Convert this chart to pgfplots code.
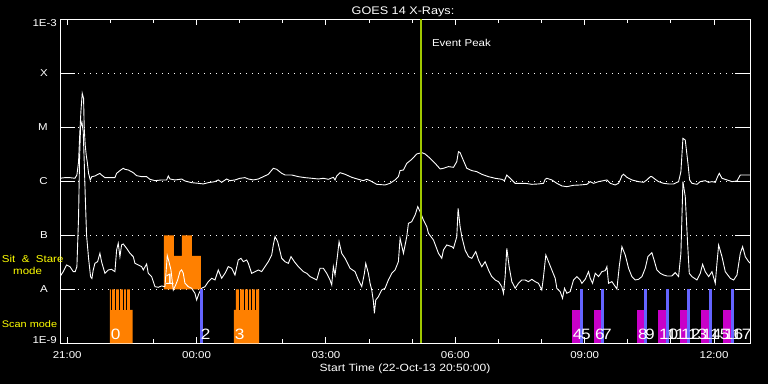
\documentclass[border=0pt]{standalone}
\usepackage{pgfplots}
\pgfplotsset{compat=1.18}
\usepackage{fontspec}
\setmainfont{Liberation Sans}[FakeStretch=1.15]
\definecolor{orng}{RGB}{255,128,0}
\definecolor{mgnt}{RGB}{200,0,200}
\definecolor{blu}{RGB}{100,100,255}
\definecolor{evc}{RGB}{160,200,0}
\definecolor{ylw}{RGB}{255,255,0}
% time in hours after 21:00 (22-Oct-13), flux as log10(W/m^2)
\begin{document}
\begin{tikzpicture}[x=1pt,y=1pt]
\fill[black] (0,0) rectangle (768,384);
\begin{axis}[
  at={(60pt,40.7pt)}, anchor=south west, scale only axis,
  width=690pt, height=324pt,
  xmin=-0.16667, xmax=15.83333, ymin=-9, ymax=-3,
  axis line style={white, line width=1pt},
  xtick={0,3,6,9,12,15},
  xticklabels={21:00,00:00,03:00,06:00,09:00,12:00},
  minor xtick={1,2,4,5,7,8,10,11,13,14},
  major tick length=6pt, minor tick length=4pt,
  tick style={white, line width=1pt},
  ytick={-9,-8,-7,-6,-5,-4,-3},
  yticklabels={\raisebox{3.3pt}{1E-9},A\hspace*{9pt},B\hspace*{9pt},C\hspace*{9pt},M\hspace*{9pt},X\hspace*{9pt},\raisebox{-3.7pt}{1E-3}},
  ytick style={draw=none},
  ymajorgrids,
  major grid style={white, line width=1pt, dash pattern=on 1pt off 5pt},
  xticklabel style={anchor=base, yshift=-15.4pt, text=white, inner sep=0pt, font=\fontsize{10}{10}\selectfont},
  yticklabel style={anchor=base east, inner sep=0pt, xshift=-3pt, yshift=-3.6pt, text=white, font=\fontsize{10}{10}\selectfont},
  /pgf/number format/assume math mode=true,
]
% sit & stare block
\addplot[fill=orng, draw=none] coordinates {(2.244,-8) (2.244,-7) (2.476,-7) (2.476,-7.383) (2.661,-7.383) (2.661,-7) (2.893,-7) (2.893,-7.383) (3.102,-7.383) (3.102,-8)} -- cycle;
% scan blocks 0 and 3
\addplot[fill=orng, draw=none] coordinates {(0.991,-9) (0.991,-8) (1.452,-8) (1.452,-8.383) (1.517,-8.383) (1.517,-9)} -- cycle;
\addplot[fill=orng, draw=none] coordinates {(3.868,-9) (3.868,-8.383) (3.914,-8.383) (3.914,-8) (4.448,-8) (4.448,-9)} -- cycle;
\addplot[black, line width=1pt] coordinates {(1.037,-8.383) (1.037,-8)};
\addplot[black, line width=1pt] coordinates {(1.130,-8.383) (1.130,-8)};
\addplot[black, line width=1pt] coordinates {(1.223,-8.383) (1.223,-8)};
\addplot[black, line width=1pt] coordinates {(1.304,-8.383) (1.304,-8)};
\addplot[black, line width=1pt] coordinates {(1.385,-8.383) (1.385,-8)};
\addplot[black, line width=1pt] coordinates {(4.007,-8.383) (4.007,-8)};
\addplot[black, line width=1pt] coordinates {(4.100,-8.383) (4.100,-8)};
\addplot[black, line width=1pt] coordinates {(4.193,-8.383) (4.193,-8)};
\addplot[black, line width=1pt] coordinates {(4.285,-8.383) (4.285,-8)};
\addplot[black, line width=1pt] coordinates {(4.378,-8.383) (4.378,-8)};
% upper channel (1-8 A)
\addplot[white, line width=0.9pt] table {
-0.166 -5.944
-0.053 -5.932
0.063 -5.932
0.179 -5.944
0.225 -5.883
0.264 -5.636
0.287 -5.204
0.318 -4.710
0.349 -4.371
0.380 -4.464
0.395 -5.019
0.418 -5.328
0.441 -5.513
0.464 -5.636
0.496 -5.852
0.534 -5.976
0.573 -5.914
0.643 -5.901
0.759 -5.852
0.797 -5.883
0.875 -5.932
0.991 -5.932
1.107 -5.932
1.146 -5.852
1.223 -5.802
1.300 -5.759
1.339 -5.778
1.416 -5.790
1.532 -5.840
1.609 -5.895
1.726 -5.914
1.842 -5.914
1.919 -5.963
2.035 -5.988
2.190 -5.975
2.306 -5.975
2.345 -5.901
2.383 -5.957
2.499 -5.975
2.615 -5.963
2.654 -5.957
2.731 -5.994
2.886 -6.025
3.040 -6.037
3.156 -6.049
3.272 -6.025
3.427 -6.006
3.504 -5.975
3.582 -6.019
3.697 -5.957
3.775 -5.988
3.891 -5.975
4.007 -5.944
4.123 -5.932
4.200 -5.957
4.316 -5.975
4.432 -5.957
4.548 -5.914
4.664 -5.870
4.780 -5.759
4.858 -5.778
4.974 -5.852
5.051 -5.883
5.206 -5.883
5.360 -5.914
5.515 -5.932
5.670 -5.944
5.825 -5.957
5.941 -5.944
6.056 -5.963
6.172 -5.926
6.211 -5.975
6.250 -5.901
6.327 -5.840
6.443 -5.870
6.598 -5.926
6.752 -5.963
6.868 -5.988
6.946 -5.963
7.023 -5.988
7.178 -6.056
7.371 -6.068
7.487 -6.037
7.603 -5.975
7.680 -5.914
7.719 -5.802
7.797 -5.790
7.874 -5.667
7.990 -5.593
8.106 -5.494
8.222 -5.469
8.300 -5.494
8.416 -5.574
8.532 -5.667
8.648 -5.772
8.725 -5.759
8.841 -5.728
8.957 -5.741
9.034 -5.636
9.073 -5.451
9.111 -5.469
9.189 -5.617
9.266 -5.759
9.382 -5.802
9.498 -5.821
9.614 -5.870
9.769 -5.914
9.923 -5.944
10.078 -5.963
10.140 -5.988
10.194 -5.883
10.272 -5.944
10.349 -6.006
10.388 -6.037
10.620 -6.037
10.774 -6.056
10.929 -6.049
11.045 -6.037
11.084 -5.963
11.122 -5.944
11.238 -5.975
11.354 -6.037
11.471 -6.086
11.587 -6.099
11.741 -6.074
11.896 -6.068
12.051 -6.056
12.128 -6.006
12.205 -6.037
12.321 -6.006
12.437 -5.988
12.515 -5.975
12.592 -6.037
12.708 -6.068
12.785 -6.037
12.824 -5.975
12.863 -5.895
12.901 -5.870
12.979 -5.926
13.095 -5.975
13.249 -6.006
13.365 -6.019
13.442 -5.975
13.520 -5.914
13.558 -5.914
13.636 -5.963
13.713 -6.006
13.829 -6.037
13.945 -6.049
14.061 -6.049
14.177 -6.006
14.231 -5.821
14.278 -5.204
14.332 -5.235
14.394 -5.667
14.433 -5.975
14.487 -6.037
14.603 -6.056
14.680 -6.006
14.796 -5.988
14.874 -6.019
14.951 -6.006
15.028 -6.019
15.082 -5.914
15.121 -5.852
15.183 -5.944
15.299 -5.975
15.415 -6.006
15.531 -5.994
15.608 -5.883
15.724 -5.883
15.840 -5.883
};
% lower channel (0.5-4 A)
\addplot[white, line width=0.9pt] table {
-0.166 -7.765
-0.092 -7.673
-0.015 -7.549
0.063 -7.580
0.140 -7.673
0.186 -7.673
0.225 -7.581
0.264 -6.655
0.287 -5.575
0.310 -4.990
0.341 -4.900
0.372 -5.081
0.395 -5.636
0.418 -6.254
0.449 -6.994
0.496 -7.427
0.542 -7.766
0.573 -7.800
0.604 -7.642
0.643 -7.519
0.705 -7.488
0.759 -7.333
0.797 -7.488
0.875 -7.704
0.952 -7.642
1.029 -7.630
1.107 -7.673
1.146 -7.272
1.184 -7.148
1.223 -7.395
1.261 -7.179
1.300 -7.160
1.378 -7.241
1.455 -7.333
1.532 -7.395
1.571 -7.519
1.648 -7.549
1.726 -7.580
1.764 -7.642
1.842 -7.531
1.880 -7.704
1.958 -7.765
2.035 -7.951
2.112 -7.963
2.190 -7.938
2.267 -7.951
2.321 -7.377
2.360 -7.488
2.406 -7.642
2.460 -8.012
2.515 -7.920
2.561 -7.827
2.615 -7.673
2.654 -7.642
2.692 -7.704
2.731 -7.889
2.808 -7.951
2.886 -7.981
2.963 -8.074
3.002 -8.198
3.056 -8.074
3.118 -7.981
3.195 -7.951
3.272 -7.858
3.350 -7.796
3.427 -7.827
3.504 -7.642
3.582 -7.796
3.659 -7.704
3.736 -7.580
3.814 -7.611
3.891 -7.735
3.968 -7.457
4.030 -7.426
4.084 -7.488
4.162 -7.457
4.200 -7.519
4.277 -7.704
4.355 -7.673
4.432 -7.642
4.510 -7.673
4.587 -7.580
4.664 -7.488
4.742 -7.364
4.780 -7.179
4.819 -7.025
4.881 -7.117
4.974 -7.426
5.051 -7.488
5.128 -7.519
5.190 -7.395
5.267 -7.488
5.360 -7.580
5.476 -7.673
5.554 -7.704
5.631 -7.765
5.708 -7.796
5.786 -7.827
5.863 -7.611
5.941 -7.611
6.018 -7.704
6.095 -7.827
6.134 -7.920
6.172 -7.580
6.211 -7.735
6.265 -7.395
6.304 -7.117
6.366 -7.333
6.443 -7.426
6.559 -7.611
6.675 -7.673
6.752 -7.827
6.830 -7.951
6.892 -7.704
6.923 -7.519
6.984 -7.704
7.023 -7.889
7.062 -8.012
7.101 -8.228
7.124 -8.444
7.155 -8.198
7.217 -8.136
7.294 -8.012
7.371 -7.981
7.448 -7.827
7.526 -7.704
7.603 -7.642
7.680 -7.488
7.719 -7.056
7.797 -7.333
7.874 -7.025
7.913 -6.778
7.990 -6.747
8.068 -6.623
8.129 -6.469
8.183 -6.562
8.260 -6.716
8.338 -6.840
8.377 -6.963
8.493 -7.086
8.609 -7.333
8.686 -7.426
8.725 -7.272
8.802 -7.179
8.918 -7.210
8.957 -7.241
9.034 -7.025
9.065 -6.500
9.111 -6.840
9.150 -7.025
9.227 -7.272
9.305 -7.395
9.382 -7.426
9.475 -7.302
9.537 -7.457
9.614 -7.580
9.691 -7.488
9.769 -7.642
9.846 -7.765
9.923 -7.827
10.001 -7.858
10.078 -7.951
10.117 -8.074
10.155 -7.765
10.194 -7.241
10.248 -7.580
10.310 -7.858
10.388 -7.981
10.465 -7.889
10.543 -7.827
10.620 -7.827
10.697 -7.858
10.774 -7.815
10.852 -7.858
10.929 -7.889
11.006 -8.012
11.045 -7.765
11.099 -7.364
11.161 -7.488
11.238 -7.642
11.316 -7.796
11.354 -7.981
11.432 -8.043
11.486 -8.167
11.532 -7.981
11.587 -8.074
11.664 -8.043
11.741 -7.827
11.819 -7.765
11.896 -7.827
11.935 -7.889
12.012 -7.815
12.089 -7.673
12.128 -7.796
12.182 -7.889
12.244 -7.704
12.321 -7.765
12.399 -7.673
12.476 -7.654
12.515 -7.580
12.553 -7.889
12.631 -7.858
12.747 -7.994
12.801 -7.580
12.863 -7.210
12.940 -7.364
13.017 -7.611
13.095 -7.765
13.172 -7.827
13.249 -7.815
13.327 -7.765
13.404 -7.611
13.466 -7.395
13.558 -7.321
13.620 -7.488
13.674 -7.642
13.752 -7.704
13.829 -7.735
13.906 -7.753
14.022 -7.753
14.100 -7.691
14.177 -7.765
14.231 -7.333
14.278 -6.006
14.332 -6.284
14.386 -7.148
14.425 -7.704
14.487 -7.765
14.603 -7.827
14.680 -7.704
14.734 -7.537
14.796 -7.673
14.874 -7.765
14.951 -7.673
15.028 -7.889
15.067 -7.519
15.106 -7.179
15.183 -7.395
15.260 -7.673
15.376 -7.796
15.454 -7.827
15.531 -7.735
15.608 -7.333
15.662 -7.210
15.724 -7.395
15.801 -7.488
15.840 -7.519
};
% scan markers: blue and magenta
\addplot[fill=blu, draw=none] coordinates {(3.079,-9) (3.079,-8) (3.141,-8) (3.141,-9)} -- cycle;
\addplot[fill=mgnt, draw=none] coordinates {(11.704,-9) (11.704,-8.383) (11.896,-8.383) (11.896,-9)} -- cycle;
\addplot[fill=blu, draw=none] coordinates {(11.896,-9) (11.896,-8) (11.958,-8) (11.958,-9)} -- cycle;
\addplot[fill=mgnt, draw=none] coordinates {(12.220,-9) (12.220,-8.383) (12.383,-8.383) (12.383,-9)} -- cycle;
\addplot[fill=blu, draw=none] coordinates {(12.383,-9) (12.383,-8) (12.445,-8) (12.445,-9)} -- cycle;
\addplot[fill=mgnt, draw=none] coordinates {(13.218,-9) (13.218,-8.383) (13.381,-8.383) (13.381,-9)} -- cycle;
\addplot[fill=blu, draw=none] coordinates {(13.381,-9) (13.381,-8) (13.443,-8) (13.443,-9)} -- cycle;
\addplot[fill=mgnt, draw=none] coordinates {(13.705,-9) (13.705,-8.383) (13.891,-8.383) (13.891,-9)} -- cycle;
\addplot[fill=blu, draw=none] coordinates {(13.891,-9) (13.891,-8) (13.953,-8) (13.953,-9)} -- cycle;
\addplot[fill=mgnt, draw=none] coordinates {(14.216,-9) (14.216,-8.383) (14.378,-8.383) (14.378,-9)} -- cycle;
\addplot[fill=blu, draw=none] coordinates {(14.378,-9) (14.378,-8) (14.441,-8) (14.441,-9)} -- cycle;
\addplot[fill=mgnt, draw=none] coordinates {(14.703,-9) (14.703,-8.383) (14.889,-8.383) (14.889,-9)} -- cycle;
\addplot[fill=blu, draw=none] coordinates {(14.889,-9) (14.889,-8) (14.951,-8) (14.951,-9)} -- cycle;
\addplot[fill=mgnt, draw=none] coordinates {(15.213,-9) (15.213,-8.383) (15.399,-8.383) (15.399,-9)} -- cycle;
\addplot[fill=blu, draw=none] coordinates {(15.399,-9) (15.399,-8) (15.462,-8) (15.462,-9)} -- cycle;
% event peak
\addplot[evc, line width=2.2pt] coordinates {(8.200,-9) (8.200,-3)};
% long y ticks on both sides
\pgfplotsinvokeforeach{0.16667,0.33333,0.5,0.66667,0.83333}{
  \draw[white, line width=1pt] (rel axis cs:0,#1) -- ++(15pt,0pt);
  \draw[white, line width=1pt] (rel axis cs:1,#1) -- ++(-15pt,0pt);
}
\node[anchor=west, text=white, font=\fontsize{10}{10}\selectfont, inner sep=0pt] at (axis cs:8.455,-3.439) {Event Peak};
% scan numbers
\begin{scope}[every node/.style={anchor=base west, inner sep=0pt, xshift=0.7pt, text=white, font=\fontsize{15}{15}\selectfont}]
\node at (axis cs:0.991,-8.926) {0};
\node at (axis cs:2.244,-7.920) {1};
\node at (axis cs:3.079,-8.926) {2};
\node at (axis cs:3.868,-8.926) {3};
\node at (axis cs:11.704,-8.926) {4};
\node at (axis cs:11.896,-8.926) {5};
\node at (axis cs:12.220,-8.926) {6};
\node at (axis cs:12.383,-8.926) {7};
\node at (axis cs:13.218,-8.926) {8};
\node at (axis cs:13.381,-8.926) {9};
\node at (axis cs:13.705,-8.926) {10};
\node at (axis cs:13.891,-8.926) {11};
\node at (axis cs:14.216,-8.926) {12};
\node at (axis cs:14.378,-8.926) {13};
\node at (axis cs:14.703,-8.926) {14};
\node at (axis cs:14.889,-8.926) {15};
\node at (axis cs:15.213,-8.926) {16};
\node at (axis cs:15.399,-8.926) {17};
\end{scope}
\end{axis}
\node[anchor=base, text=white, font=\fontsize{11}{11}\selectfont, inner sep=0pt] at (403,370) {GOES 14 X-Rays:};
\node[anchor=base, text=white, font=\fontsize{10.5}{10.5}\selectfont, inner sep=0pt] at (405,12.3) {Start Time (22-Oct-13 20:50:00)};
\node[anchor=base west, text=ylw, font=\fontsize{10}{10}\selectfont, inner sep=0pt] at (1.7,122) {Sit\hspace{6.5pt}\&\hspace{6.5pt}Stare};
\node[anchor=base west, text=ylw, font=\fontsize{10}{10}\selectfont, inner sep=0pt] at (13,109.7) {mode};
\node[anchor=base west, text=ylw, font=\fontsize{9.5}{9.5}\selectfont, inner sep=0pt] at (1.7,56.7) {Scan mode};
\end{tikzpicture}
\end{document}
